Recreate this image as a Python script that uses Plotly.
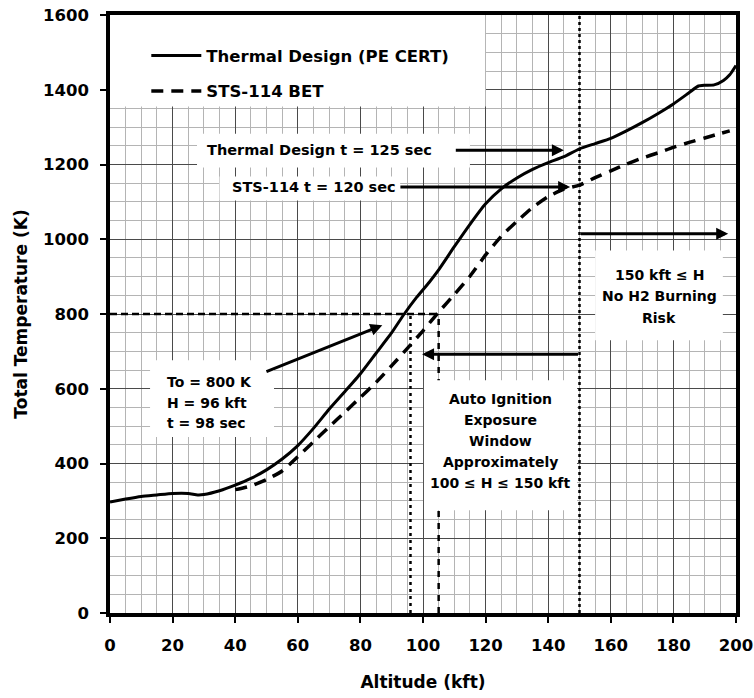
import plotly.graph_objects as go

# Thermal design (PE CERT) total temperature profile
thermal_alt = [0, 5, 10, 15, 20, 25, 28, 30, 35, 40, 45, 50, 55, 60, 65, 70, 75, 80,
               85, 90, 94, 98, 102, 105, 110, 115, 120, 125, 130, 135, 140, 145, 150,
               155, 160, 165, 170, 175, 180, 185, 188, 190, 193, 196, 198, 200]
thermal_temp = [297, 305, 312, 316, 320, 320, 316, 317, 327, 342, 360, 383, 412, 448, 494,
                545, 592, 640, 695, 750, 800, 845, 885, 918, 980, 1040, 1095, 1135, 1164,
                1187, 1205, 1221, 1242, 1256, 1270, 1290, 1312, 1336, 1362, 1392, 1410,
                1412, 1413, 1425, 1440, 1465]

# STS-114 best estimated trajectory
sts_alt = [40, 45, 50, 55, 60, 65, 70, 75, 80, 85, 90, 95, 100, 105, 110, 115, 120, 125,
           130, 135, 140, 145, 150, 155, 160, 165, 170, 175, 180, 185, 190, 195, 198]
sts_temp = [330, 340, 357, 380, 418, 458, 498, 537, 577, 617, 662, 708, 755, 805, 852,
            901, 958, 1008, 1048, 1085, 1114, 1134, 1145, 1165, 1183, 1201, 1217, 1231,
            1246, 1259, 1271, 1283, 1290]

# Reference values
T_IGNITION = 800          # K
H_THERMAL = 96            # kft, thermal design reaches 800 K
H_STS = 105               # kft, STS-114 reaches 800 K
H_NO_BURN = 150           # kft
T_THERMAL_125 = 1238      # K, thermal design at t = 125 sec
T_STS_120 = 1140          # K, STS-114 at t = 120 sec

x_ticks = [0, 20, 40, 60, 80, 100, 120, 140, 160, 180, 200]
y_ticks = [0, 200, 400, 600, 800, 1000, 1200, 1400, 1600]

FONT = "DejaVu Sans"
BOLD = "bold"

fig = go.Figure()

fig.add_trace(go.Scatter(
    x=thermal_alt, y=thermal_temp, mode="lines", name="Thermal Design (PE CERT)",
    line=dict(color="black", width=3, shape="spline", smoothing=0.5), legendgroup="a"))
fig.add_trace(go.Scatter(
    x=sts_alt, y=sts_temp, mode="lines", name="STS-114 BET",
    line=dict(color="black", width=3.5, dash="12px,8px", shape="spline", smoothing=0.5),
    legendgroup="b"))

shapes = []
# reference lines (drawn above the grid, below the text boxes)
shapes.append(dict(type="line", xref="x", yref="y", x0=0, x1=H_STS, y0=T_IGNITION, y1=T_IGNITION,
                   line=dict(color="black", width=2.5, dash="7px,4px"), layer="between"))
shapes.append(dict(type="line", xref="x", yref="y", x0=H_THERMAL, x1=H_THERMAL, y0=0, y1=T_IGNITION,
                   line=dict(color="black", width=2.5, dash="3px,4px"), layer="between"))
shapes.append(dict(type="line", xref="x", yref="y", x0=H_STS, x1=H_STS, y0=0, y1=T_IGNITION,
                   line=dict(color="black", width=2.5, dash="6px,6px"), layer="between"))
shapes.append(dict(type="line", xref="x", yref="y", x0=H_NO_BURN, x1=H_NO_BURN, y0=0, y1=1600,
                   line=dict(color="black", width=2.5, dash="3px,3px"), layer="between"))

# white backgrounds behind legend and labels
boxes = [
    (0, 120, 1355, 1600),      # legend
    (27.8, 115, 1192, 1282),   # thermal design label
    (35, 92.7, 1104, 1168),    # STS-114 label
    (12.8, 52.4, 471, 676),    # To = 800 K
    (100.3, 149.2, 275, 623),  # auto ignition window
    (155, 195.8, 730, 970),    # no H2 burning
]
for x0, x1, y0, y1 in boxes:
    shapes.append(dict(type="rect", xref="x", yref="y", x0=x0, x1=x1, y0=y0, y1=y1,
                       fillcolor="white", line=dict(width=0), layer="between"))

annotations = []


def arrow(x_from, y_from, x_to, y_to):
    annotations.append(dict(
        x=x_to, y=y_to, ax=x_from, ay=y_from, xref="x", yref="y", axref="x", ayref="y",
        text="", showarrow=True, arrowhead=2, arrowsize=0.8, arrowwidth=3,
        arrowcolor="black", standoff=0, startstandoff=0))


def label(x, y, text, anchor="center", size=14):
    annotations.append(dict(
        x=x, y=y, xref="x", yref="y", text=text, showarrow=False, xanchor=anchor,
        yanchor="middle", font=dict(family=FONT, size=size, color="black", weight=BOLD)))


label(103.5, T_THERMAL_125, "Thermal Design t = 125 sec", anchor="right", size=14.5)
arrow(110, T_THERMAL_125, 145, T_THERMAL_125)
label(92, T_STS_120, "STS-114 t = 120 sec", anchor="right", size=14.5)
arrow(92.3, T_STS_120, 147, T_STS_120)

arrow(H_NO_BURN, 1015, 197.5, 1015)
for i, line in enumerate(["150 kft \u2264 H", "No H2 Burning", "Risk"]):
    label(175.4, 904 - i * 57, line)

arrow(H_NO_BURN, 692, 99.7, 692)
for i, line in enumerate(["Auto Ignition", "Exposure", "Window", "Approximately",
                          "100 \u2264 H \u2264 150 kft"]):
    label(124.6, 572 - i * 56, line)

arrow(49.5, 644, 87, 770)
for i, line in enumerate(["To = 800 K", "H = 96 kft", "t = 98 sec"]):
    label(17.6, 618 - i * 55, line, anchor="left")

axis_common = dict(
    showline=True, linecolor="black", linewidth=3.5, mirror=True,
    ticks="outside", ticklen=6, tickwidth=2, tickcolor="black",
    showgrid=True, gridcolor="#4a4a4a", gridwidth=1.2,
    zeroline=False, automargin=False,
    tickfont=dict(family=FONT, size=16.5, color="black", weight=BOLD),
)

fig.update_xaxes(
    range=[0, 200], tickvals=x_ticks, ticklabelstandoff=8,
    minor=dict(dtick=5, showgrid=True, gridcolor="#b4b4b4", gridwidth=1.4),
    title=dict(text="Altitude (kft)", standoff=24,
               font=dict(family=FONT, size=17, color="black", weight=BOLD)),
    **axis_common)
fig.update_yaxes(
    range=[0, 1600], tickvals=y_ticks, ticklabelstandoff=8,
    minor=dict(dtick=50, showgrid=True, gridcolor="#b4b4b4", gridwidth=1.4),
    title=dict(text="Total Temperature (K)", standoff=12,
               font=dict(family=FONT, size=17, color="black", weight=BOLD)),
    **axis_common)

fig.update_layout(
    width=754, height=698,
    margin=dict(l=110, r=18, t=15, b=85),
    paper_bgcolor="white", plot_bgcolor="white",
    shapes=shapes, annotations=annotations,
    showlegend=True,
    legend=dict(x=0.058, y=0.961, xanchor="left", yanchor="top", itemwidth=50,
                bgcolor="rgba(0,0,0,0)", traceorder="grouped", tracegroupgap=11,
                font=dict(family=FONT, size=16.5, color="black", weight=BOLD)),
)

fig.write_html("out.html")
